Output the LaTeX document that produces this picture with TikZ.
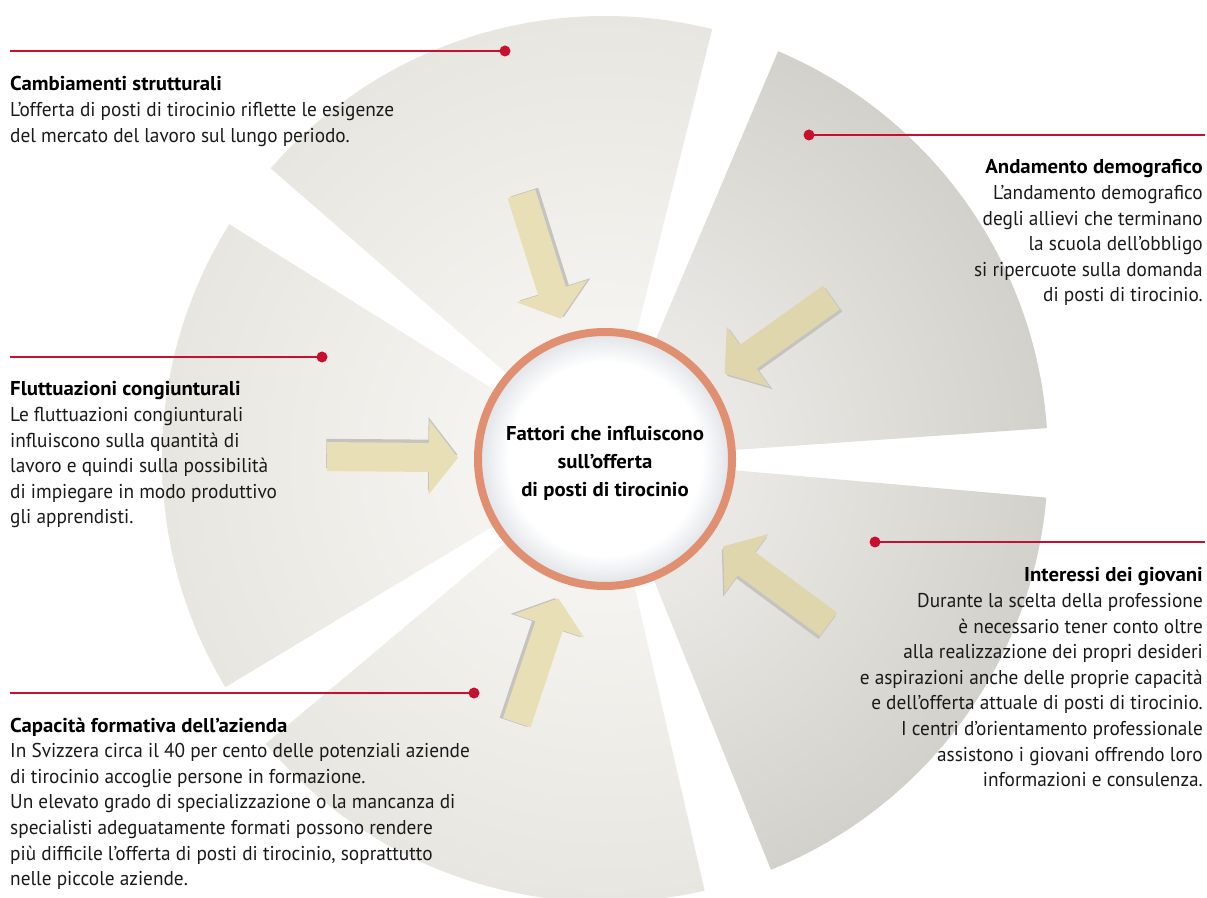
\documentclass[tikz,border=0pt]{standalone}
\usepackage{fontspec}
\newfontfamily\bodyfont[FakeStretch=0.965]{PT Sans}
\newfontfamily\headfont[FakeStretch=1.04]{PT Sans}
\definecolor{lsin}{HTML}{F4F3EF}
\definecolor{lsout}{HTML}{E8E6E0}
\definecolor{dsin}{HTML}{E9E8E4}
\definecolor{dsout}{HTML}{D3D1CB}
\definecolor{discedge}{HTML}{E2E5E9}
\definecolor{arrowlt}{HTML}{E9DFB7}
\definecolor{arrowdk}{HTML}{DFD6AD}
\definecolor{shadowc}{HTML}{C4C3BF}
\definecolor{ringc}{HTML}{E08F70}
\definecolor{redc}{HTML}{C8102E}
\definecolor{textc}{HTML}{1A1A1A}
\pgfdeclareradialshading{lightsec}{\pgfpoint{0bp}{0bp}}{color(0bp)=(lsin); color(8bp)=(lsin); color(25bp)=(lsout); color(50bp)=(lsout)}
\pgfdeclareradialshading{darksec}{\pgfpoint{0bp}{0bp}}{color(0bp)=(dsin); color(8bp)=(dsin); color(25bp)=(dsout); color(50bp)=(dsout)}
\pgfdeclareradialshading{discshade}{\pgfpoint{0bp}{0bp}}{color(0bp)=(white); color(19.5bp)=(white); color(25bp)=(discedge); color(50bp)=(discedge)}
\begin{document}
\begin{tikzpicture}[x=1pt,y=1pt,
  reddot/.style={circle, fill=redc, inner sep=0pt, minimum size=11pt},
  redline/.style={draw=redc, line width=1.2pt},
  txtblock/.style={inner sep=0pt, text=textc, font=\bodyfont\fontsize{20}{25.6}\selectfont},
  ctxt/.style={inner sep=0pt, text=black, align=center, font=\headfont\bfseries\fontsize{20}{27.7}\selectfont},
  ringline/.style={draw=ringc, line width=8pt}]
\useasboundingbox (0,0) rectangle (1207,897);
\fill[white] (0,0) rectangle (1207,897);
\coordinate (C) at (605,438);
% sectors
\foreach \a/\b/\s in {4/67/darksec, 76/139/lightsec, 148/211/lightsec, 220/283/lightsec, 292/355/darksec}{
  \begin{scope}
    \clip (C) -- ++(\a:443) arc[start angle=\a, end angle=\b, radius=443] -- cycle;
    \shade[shading=\s] (C) circle (443);
  \end{scope}
}
% arrows
\foreach \t/\c in {35.5/arrowdk, 107.5/arrowlt, 179.5/arrowlt, 251.5/arrowlt, 323.5/arrowdk}{
  \begin{scope}[shift={(C)}, rotate=\t]
    \begin{scope}[shift={(0.8,-3.3)}]
      \fill[shadowc] (278,-14.5) -- (176,-14.5) -- (176,-37) -- (147,0) -- (176,37) -- (176,14.5) -- (278,14.5) -- cycle;
    \end{scope}
    \fill[\c] (278,-14.5) -- (176,-14.5) -- (176,-37) -- (147,0) -- (176,37) -- (176,14.5) -- (278,14.5) -- cycle;
  \end{scope}
}
% centre disc
\shade[shading=discshade] (C) circle (124);
\draw[ringline] (C) circle (127);
\node[ctxt, anchor=base] (title) at (605,400.6) {Fattori che influiscono\\sull’offerta\\di posti di tirocinio};
% connectors
\coordinate (l1) at (10,846);
\node[reddot] (d1) at (505,846) {};
\draw[redline] (l1) -- (d1.center);
\coordinate (l2) at (1205,762);
\node[reddot] (d2) at (809,762) {};
\draw[redline] (d2.center) -- (l2);
\coordinate (l3) at (10,540);
\node[reddot] (d3) at (322,540) {};
\draw[redline] (l3) -- (d3.center);
\coordinate (l4) at (10,204);
\node[reddot] (d4) at (474,204) {};
\draw[redline] (l4) -- (d4.center);
\coordinate (l5) at (1205,355);
\node[reddot] (d5) at (875,355) {};
\draw[redline] (d5.center) -- (l5);
% text blocks (base anchor = baseline of last line)
\node[txtblock, anchor=base west, align=left] (t1) at (10,754.8) {{\headfont\bfseries\color{black}Cambiamenti strutturali}\\L’offerta di posti di tirocinio riflette le esigenze\\del mercato del lavoro sul lungo periodo.};
\node[txtblock, anchor=base east, align=right] (t2) at (1203,595) {{\headfont\bfseries\color{black}Andamento demografico}\\L’andamento demografico\\degli allievi che terminano\\la scuola dell’obbligo\\si ripercuote sulla domanda\\di posti di tirocinio.};
\node[txtblock, anchor=base west, align=left] (t3) at (10,373) {{\headfont\bfseries\color{black}Fluttuazioni congiunturali}\\Le fluttuazioni congiunturali\\influiscono sulla quantità di\\lavoro e quindi sulla possibilità\\di impiegare in modo produttivo\\gli apprendisti.};
\node[txtblock, anchor=base west, align=left] (t4) at (10,11.4) {{\headfont\bfseries\color{black}Capacità formativa dell’azienda}\\In Svizzera circa il 40 per cento delle potenziali aziende\\di tirocinio accoglie persone in formazione.\\Un elevato grado di specializzazione o la mancanza di\\specialisti adeguatamente formati possono rendere\\più difficile l’offerta di posti di tirocinio, soprattutto\\nelle piccole aziende.};
\node[txtblock, anchor=base east, align=right] (t5) at (1203,110.2) {{\headfont\bfseries\color{black}Interessi dei giovani}\\Durante la scelta della professione\\è necessario tener conto oltre\\alla realizzazione dei propri desideri\\e aspirazioni anche delle proprie capacità\\e dell’offerta attuale di posti di tirocinio.\\I centri d’orientamento professionale\\assistono i giovani offrendo loro\\informazioni e consulenza.};
\end{tikzpicture}
\end{document}
